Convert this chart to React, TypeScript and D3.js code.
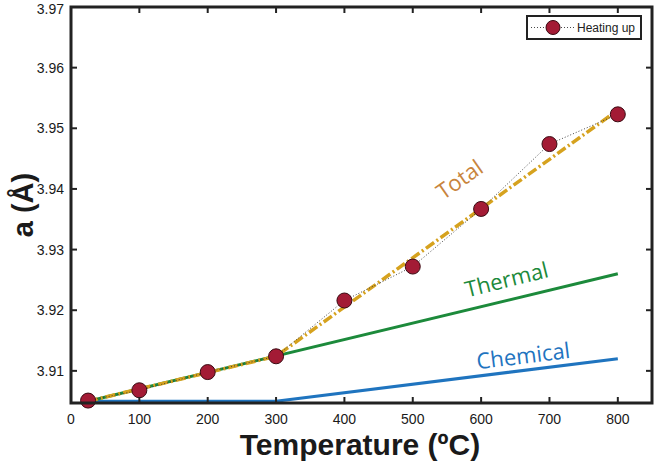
import React, { useRef, useEffect } from 'react';
import * as d3 from 'd3';

// heating-up measurements
const heatTemps = [25, 100, 200, 300, 400, 500, 600, 700, 800];
const heatA = [3.9051, 3.9068, 3.9098, 3.9124, 3.9216, 3.9272, 3.9367, 3.9474, 3.9523];

// model lines
const totalTemps = [25, 300, 800];
const totalA = [3.905, 3.9124, 3.953];
const thermalTemps = [25, 800];
const thermalA = [3.905, 3.926];
const chemicalTemps = [25, 300, 800];
const chemicalA = [3.905, 3.905, 3.912];

const xTicks = [0, 100, 200, 300, 400, 500, 600, 700, 800];
const yTicks = [3.91, 3.92, 3.93, 3.94, 3.95, 3.96, 3.97];

const W = 654;
const H = 469;

const App: React.FC = () => {
  const ref = useRef<SVGSVGElement>(null);

  useEffect(() => {
    const svg = d3.select(ref.current);
    svg.selectAll('*').remove();

    const left = 71, right = 652, top = 7, bottom = 403;
    const x = d3.scaleLinear().domain([0, 850]).range([left, right]);
    const y = d3.scaleLinear().domain([3.9047, 3.97]).range([bottom, top]);

    const tickFont = '"Liberation Sans", Arial, sans-serif';
    const annFont = '"Open Sans", "Noto Sans", sans-serif';

    const line = (ts: number[], vs: number[]) =>
      d3.line<number>().x(i => x(ts[i])).y(i => y(vs[i]))(d3.range(ts.length)) as string;

    // chemical
    svg.append('path').attr('d', line(chemicalTemps, chemicalA))
      .attr('fill', 'none').attr('stroke', '#1f74bf').attr('stroke-width', 3);
    // thermal
    svg.append('path').attr('d', line(thermalTemps, thermalA))
      .attr('fill', 'none').attr('stroke', '#1c8a3b').attr('stroke-width', 3);
    // total
    svg.append('path').attr('d', line(totalTemps, totalA))
      .attr('fill', 'none').attr('stroke', '#d6a21e').attr('stroke-width', 3.5)
      .attr('stroke-dasharray', '10,3,2,3');

    // dotted connector + markers
    svg.append('path').attr('d', line(heatTemps, heatA))
      .attr('fill', 'none').attr('stroke', '#333').attr('stroke-width', 0.9)
      .attr('stroke-dasharray', '1,2');
    svg.append('g').selectAll('circle').data(d3.range(heatTemps.length)).enter()
      .append('circle')
      .attr('cx', i => x(heatTemps[i]))
      .attr('cy', i => y(heatA[i]))
      .attr('r', 7.5)
      .attr('fill', '#a31b35')
      .attr('stroke', '#3a0a12')
      .attr('stroke-width', 1);

    // annotations
    const ann = (t: string, tx: number, ty: number, ang: number, color: string) =>
      svg.append('text')
        .attr('transform', `translate(${x(tx)},${y(ty)}) rotate(${ang})`)
        .attr('text-anchor', 'middle')
        .attr('font-family', annFont)
        .attr('font-size', 22)
        .attr('fill', color)
        .text(t);
    ann('Total', 575, 3.9405, -35, '#c8843c');
    ann('Thermal', 640, 3.9238, -14, '#1c8a3b');
    ann('Chemical', 663, 3.9112, -7, '#1f74bf');

    // frame
    svg.append('rect')
      .attr('x', left).attr('y', top)
      .attr('width', right - left).attr('height', bottom - top)
      .attr('fill', 'none').attr('stroke', '#222').attr('stroke-width', 3);

    // ticks (inward, mirrored)
    const tl = 6;
    const tg = svg.append('g').attr('stroke', '#222').attr('stroke-width', 2);
    xTicks.forEach(t => {
      tg.append('line').attr('x1', x(t)).attr('x2', x(t)).attr('y1', bottom).attr('y2', bottom - tl);
      tg.append('line').attr('x1', x(t)).attr('x2', x(t)).attr('y1', top).attr('y2', top + tl);
    });
    yTicks.forEach(t => {
      tg.append('line').attr('x1', left).attr('x2', left + tl).attr('y1', y(t)).attr('y2', y(t));
      tg.append('line').attr('x1', right).attr('x2', right - tl).attr('y1', y(t)).attr('y2', y(t));
    });

    // tick labels
    svg.append('g').selectAll('text').data(xTicks).enter().append('text')
      .attr('x', d => x(d)).attr('y', 424)
      .attr('text-anchor', 'middle')
      .attr('font-family', tickFont).attr('font-size', 14).attr('fill', '#1a1a1a')
      .text(d => String(d));
    svg.append('g').selectAll('text').data(yTicks).enter().append('text')
      .attr('x', 64).attr('y', d => Math.max(y(d) + 5, 14))
      .attr('text-anchor', 'end')
      .attr('font-family', tickFont).attr('font-size', 14).attr('fill', '#1a1a1a')
      .text(d => d.toFixed(2));

    // axis titles
    svg.append('text')
      .attr('x', 360).attr('y', 455)
      .attr('text-anchor', 'middle')
      .attr('font-family', tickFont).attr('font-weight', 'bold').attr('font-size', 30)
      .attr('fill', '#1a1a1a')
      .text('Temperature (ºC)');
    svg.append('text')
      .attr('transform', 'translate(33,205) rotate(-90)')
      .attr('text-anchor', 'middle')
      .attr('font-family', tickFont).attr('font-weight', 'bold').attr('font-size', 29)
      .attr('fill', '#1a1a1a')
      .text('a (Å)');

    // legend
    const lg = svg.append('g');
    lg.append('rect').attr('x', 527).attr('y', 16).attr('width', 114).attr('height', 23)
      .attr('fill', '#fff').attr('stroke', '#222').attr('stroke-width', 2);
    lg.append('line').attr('x1', 531).attr('x2', 575).attr('y1', 27.5).attr('y2', 27.5)
      .attr('stroke', '#333').attr('stroke-width', 0.9).attr('stroke-dasharray', '1,2');
    lg.append('circle').attr('cx', 553).attr('cy', 27.5).attr('r', 7)
      .attr('fill', '#a31b35').attr('stroke', '#3a0a12').attr('stroke-width', 1);
    lg.append('text').attr('x', 577).attr('y', 32)
      .attr('font-family', tickFont).attr('font-size', 12).attr('fill', '#222')
      .text('Heating up');
  }, []);

  return (
    <svg ref={ref} width={W} height={H}
      style={{ position: 'absolute', left: 0, top: 0, background: '#fff' }} />
  );
};

export default App;
